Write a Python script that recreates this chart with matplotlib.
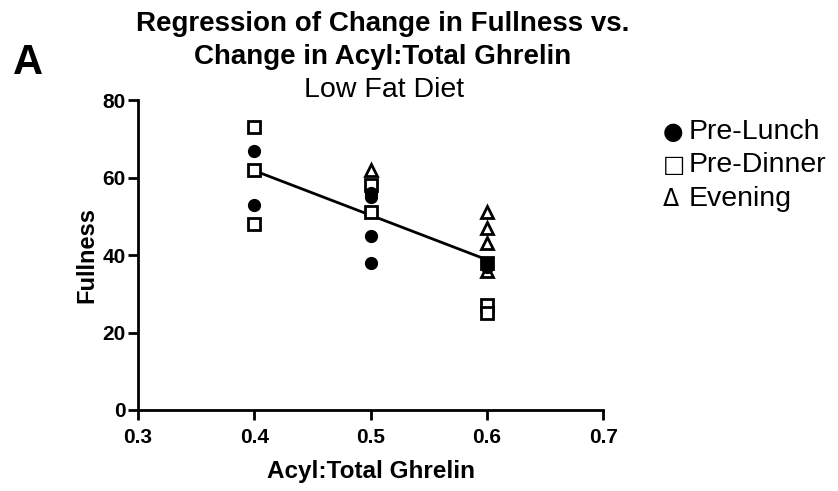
import numpy as np
import matplotlib.pyplot as plt

plt.rcParams['font.family'] = ['Liberation Sans', 'DejaVu Sans']

# ---------------------------
# Data
# ---------------------------
lunch_x = [0.4, 0.4, 0.5, 0.5, 0.5, 0.5, 0.6, 0.6]
lunch_y = [67, 53, 56, 55, 45, 38, 38, 37]

dinner_x = [0.4, 0.4, 0.4, 0.5, 0.5, 0.6, 0.6, 0.6]
dinner_y = [73, 62, 48, 58, 51, 38, 27, 25]

evening_x = [0.5, 0.6, 0.6, 0.6, 0.6]
evening_y = [62, 51, 47, 43, 36]

fit_x = [0.4, 0.6]
fit_y = [61.8, 38.8]

x_ticks = [0.3, 0.4, 0.5, 0.6, 0.7]
y_ticks = [0, 20, 40, 60, 80]

legend_syms = ["\u25cf", "\u25a1", "\u0394"]
legend_labels = ["Pre-Lunch", "Pre-Dinner", "Evening"]

# ---------------------------
# Plot
# ---------------------------
fig = plt.figure(figsize=(8.38, 4.91), dpi=100)
ax = fig.add_axes([0.1647, 0.165, 0.555, 0.631])

ax.plot(fit_x, fit_y, color="black", lw=2, zorder=1)
ax.plot(lunch_x, lunch_y, "o", color="black", ms=8.5, zorder=3)
ax.plot(dinner_x, dinner_y, "s", mfc="white", mec="black", mew=2, ms=8.5, zorder=2)
ax.plot(evening_x, evening_y, "^", mfc="white", mec="black", mew=2, ms=9, zorder=2)

ax.set_xlim(0.3, 0.7)
ax.set_ylim(0, 80)
ax.set_xticks(x_ticks)
ax.set_yticks(y_ticks)
ax.set_xticklabels([f"{t:.1f}" for t in x_ticks], fontsize=15, fontweight="bold")
ax.set_yticklabels([str(t) for t in y_ticks], fontsize=15, fontweight="bold")
ax.tick_params(direction="out", length=7, width=2, pad=2)
ax.tick_params(axis="x", pad=6)

for side in ["top", "right"]:
    ax.spines[side].set_visible(False)
for side in ["left", "bottom"]:
    ax.spines[side].set_linewidth(2)

ax.set_xlabel("Acyl:Total Ghrelin", fontsize=17.5, fontweight="bold", labelpad=9)
ax.set_ylabel("Fullness", fontsize=17, fontweight="bold", labelpad=3)

# titles
fig.text(0.457, 0.937, "Regression of Change in Fullness vs.", ha="center", va="baseline",
         fontsize=20, fontweight="bold")
fig.text(0.457, 0.870, "Change in Acyl:Total Ghrelin", ha="center", va="baseline",
         fontsize=20, fontweight="bold")
fig.text(0.458, 0.803, "Low Fat Diet", ha="center", va="baseline", fontsize=20.5)
fig.text(0.016, 0.872, "A", ha="left", va="center", fontsize=30, fontweight="bold")

# legend as text
for i, (sym, lab) in enumerate(zip(legend_syms, legend_labels)):
    y = 0.717 - i * 0.068
    fig.text(0.791, y, sym, ha="left", va="baseline", fontsize=17, family="DejaVu Sans")
    fig.text(0.822, y, lab, ha="left", va="baseline", fontsize=20.5)

fig.savefig("out.png", dpi=100)
